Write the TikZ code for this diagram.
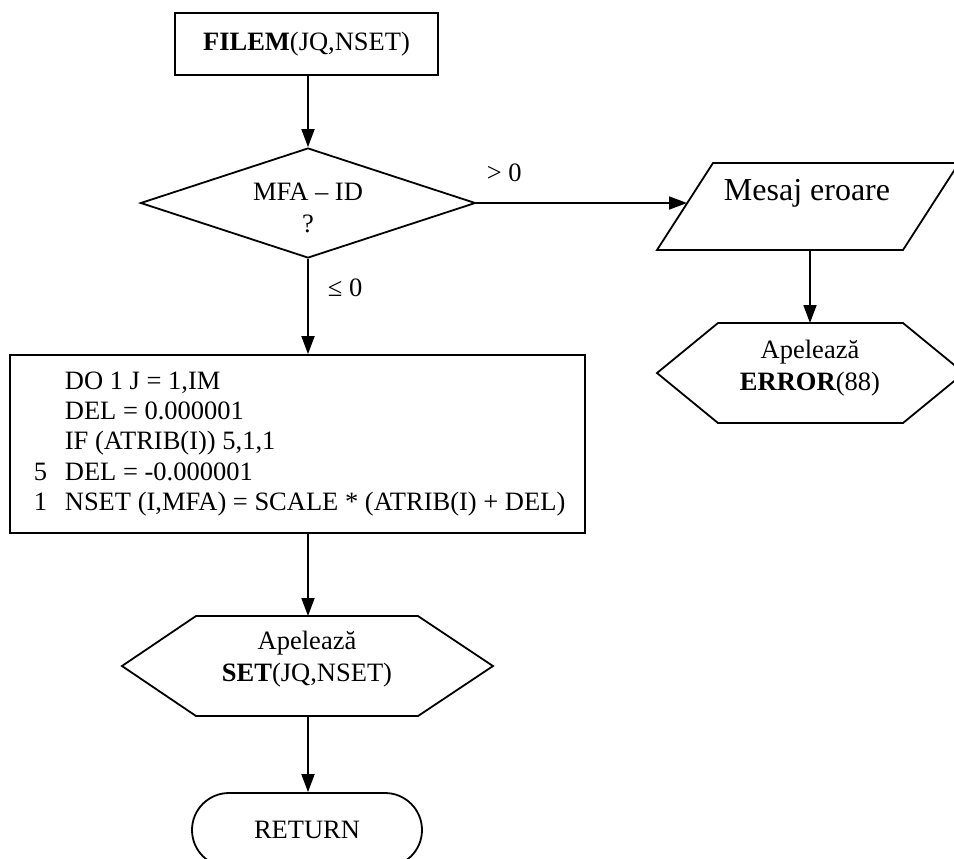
\documentclass[tikz,border=0pt]{standalone}
\usepackage{fontspec}
\setmainfont{Liberation Serif}
\usetikzlibrary{shapes.geometric,shapes.misc,arrows.meta}

\begin{document}
\begin{tikzpicture}[x=0.5pt,y=-0.5pt,
  line width=0.9pt,
  flow/.style={-{Triangle[length=9pt,width=6.5pt]}},
  txt/.style={font=\fontsize{13.25}{16}\selectfont, inner sep=0pt, align=center},
  bigtxt/.style={font=\fontsize{16}{19}\selectfont, inner sep=0pt, align=center},
  codetxt/.style={font=\fontsize{13.25}{15.15}\selectfont, inner sep=0pt, align=left},
  shapeline/.style={draw, line join=miter},
]
\useasboundingbox (0,0) rectangle (954,858);
\clip (0,0) rectangle (954,858);

% entry point
\node[draw, txt, minimum width=131.5pt, minimum height=31pt] (start) at (306.5,44)
  {\textbf{FILEM}(JQ,NSET)};

% test on MFA - ID
\node[draw, diamond, minimum width=167.5pt, minimum height=55pt, inner sep=0pt] (test) at (308,203) {};
\node[txt] (testtext) at (308,208) {MFA – ID\\?};
\node[txt, anchor=west] (gt) at (486,173) {> 0};
\node[txt, anchor=west] (le) at (327,288) {≤ 0};

% loop body
\node[draw, minimum width=287.5pt, minimum height=89pt, inner sep=0pt] (code) at (297.5,444) {};
\node[codetxt, anchor=west] (codetext) at (33,444) {%
  \makebox[15.5pt][l]{}DO 1 J = 1,IM\\
  \makebox[15.5pt][l]{}DEL = 0.000001\\
  \makebox[15.5pt][l]{}IF (ATRIB(I)) 5,1,1\\
  \makebox[15.5pt][l]{5}DEL = -0.000001\\
  \makebox[15.5pt][l]{1}NSET (I,MFA) = SCALE * (ATRIB(I) + DEL)};

% call SET
\draw[shapeline] (196,616) -- (418,616) -- (493,666) -- (418,716) -- (196,716) -- (122,666) -- cycle;
\coordinate (set-top) at (308,616);
\coordinate (set-bottom) at (308,716);
\node[txt] (set) at (307,659) {Apelează\\\textbf{SET}(JQ,NSET)};

% exit (runs past the lower edge of the page)
\node[draw, rounded rectangle, txt, minimum width=115pt, minimum height=37pt] (ret) at (307,830) {RETURN};

% error message
\draw[shapeline] (713,163) -- (959,163) -- (903,250) -- (657,250) -- cycle;
\coordinate (msg-w) at (687,203);
\coordinate (msg-s) at (810,250);
\node[bigtxt] (msg) at (807,193) {Mesaj eroare};

% call ERROR
\draw[shapeline] (718,323) -- (903,323) -- (964,373) -- (903,423) -- (718,423) -- (657,373) -- cycle;
\coordinate (err-top) at (810,323);
\node[txt] (err) at (810,368) {Apelează\\\textbf{ERROR}(88)};

% connectors
\draw[flow] (start.south -| test.north) -- (test.north);
\draw[flow] (test.south) -- (test.south |- code.north);
\draw[flow] (code.south -| set-top) -- (set-top);
\draw[flow] (set-bottom) -- (set-bottom |- ret.north);
\draw[flow] (test.east) -- (msg-w);
\draw[flow] (msg-s) -- (err-top);
\end{tikzpicture}
\end{document}
